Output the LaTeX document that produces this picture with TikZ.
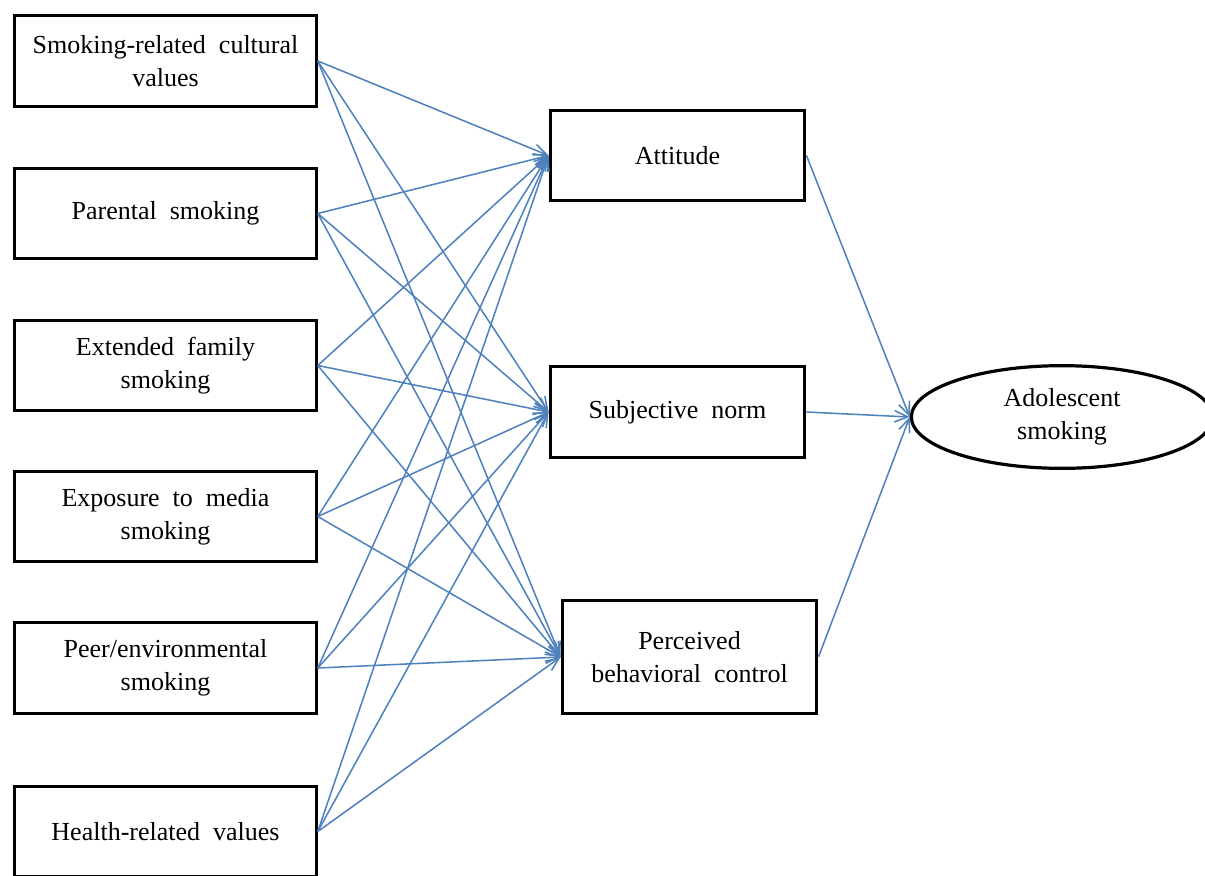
\documentclass[tikz,border=0pt]{standalone}
\usepackage{fontspec}
\setmainfont{Liberation Serif}
\usetikzlibrary{arrows.meta,shapes.geometric}
\definecolor{linkblue}{HTML}{4F81BD}
\newcommand{\widewords}{\spaceskip=0.5em\relax}
\begin{document}
\begin{tikzpicture}[x=0.75pt,y=-0.75pt,
  lbl/.style={font=\fontsize{19.5}{24.5}\selectfont,align=center,text=black,
              execute at begin node=\widewords},
  box/.style={lbl,draw=black,line width=2.4pt,inner sep=0pt},
  srcbox/.style={box,minimum width=226pt,minimum height=68pt},
  midbox/.style={box,minimum width=191pt,minimum height=68pt},
  link/.style={draw=linkblue,line width=1.15pt,-{Straight Barb[length=10pt,width=8.5pt]}}]
\path[use as bounding box,clip] (0,0) rectangle (1205,875);

% predictors
\node[srcbox] (s1) at (165.5,61)  {Smoking-related cultural\\values};
\node[srcbox] (s2) at (165.5,213.5) {Parental smoking};
\node[srcbox] (s3) at (165.5,365.5) {Extended family\\smoking};
\node[srcbox] (s4) at (165.5,516.5) {Exposure to media\\smoking};
\node[srcbox] (s5) at (165.5,668)  {Peer/environmental\\smoking};
\node[srcbox] (s6) at (165.5,831.5) {Health-related values};

% mediators
\node[midbox] (att) at (677.5,155.5) {Attitude};
\node[midbox] (sn)  at (677.5,412)   {Subjective norm};
\node[midbox,minimum height=85pt] (pbc) at (689.5,657) {Perceived\\behavioral control};

% outcome
\node[lbl,ellipse,draw=black,line width=2.4pt,inner sep=0pt,
      minimum width=226pt,minimum height=77pt] (ado) at (1062,417) {Adolescent\\smoking};

% paths from predictors to mediators
\foreach \s in {s1,s2,s3,s4,s5,s6}
  \foreach \m in {att,sn,pbc}
    \draw[link] (\s.east) -- (\m.west);

% paths from mediators to outcome
\foreach \m in {att,sn,pbc}
  \draw[link] (\m.east) -- (ado.west);
\end{tikzpicture}
\end{document}
